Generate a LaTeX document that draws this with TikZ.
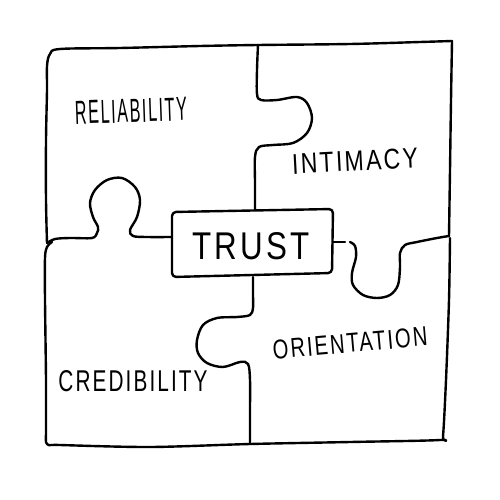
\documentclass[tikz,border=0pt]{standalone}
\usepackage{fontspec}
\setmainfont{Liberation Sans}
\newfontfamily\hand[LetterSpace=10]{Liberation Sans}
\begin{document}
\begin{tikzpicture}[x=1pt,y=-1pt,
  ink/.style={line width=2.4pt, line cap=round, line join=round},
  lab/.style={inner sep=0pt, font=\hand}]
\useasboundingbox (0,0) rectangle (500,500);
\fill[white] (0,0) rectangle (500,500);
% outer frame
\draw[ink] plot[smooth,tension=0.55] coordinates {(47,243) (46,200) (46,140) (47,90) (47,66) (50,54) (60,49) (120,48) (200,46) (258,45) (350,44) (420,42) (452,41)};
\draw[ink] plot[smooth,tension=0.55] coordinates {(452,41) (451,100) (450,170) (449,236)};
\draw[ink] plot[smooth,tension=0.5] coordinates {(450,238) (449,300) (446,380) (443,436) (440,440) (350,442) (250,444) (150,447) (60,445) (47,444) (46,430) (46,380) (45,300) (45,258) (47,247) (52,242)};
% dividers
\draw[ink] plot[smooth,tension=0.55] coordinates {(258,45) (257,70) (257,94) (261,100) (277,100) (297,97) (307,103) (312,118) (307,133) (293,143) (273,145) (259,147) (255,157) (255,183) (255,210)};
\draw[ink] plot[smooth,tension=0.55] coordinates {(47,243) (55,239) (70,238) (92,238) (97,233) (98,227) (93,217) (90,203) (95,190) (107,180) (122,178) (135,187) (140,200) (137,217) (130,230) (133,236) (147,237) (172,237)};
\draw[ink] plot[smooth,tension=0.55] coordinates {(253,277) (253,295) (253,308) (250,315) (237,317) (217,318) (203,325) (197,340) (198,353) (207,363) (223,367) (240,362) (248,364) (250,380) (250,410) (250,444)};
\draw[ink] (333,242) -- (345,242);
\draw[ink] plot[smooth,tension=0.55] coordinates {(350,242) (355,246) (356,257) (352,273) (353,285) (363,295) (377,298) (390,295) (398,285) (400,267) (400,253) (405,245) (417,242) (437,238) (449,236)};
% TRUST box
\draw[ink, rounded corners=4pt] (172,277) -- (172,212) -- (333,209) -- (332,273) -- cycle;
\node[lab] (trust) at (251,246) {\resizebox{117pt}{27pt}{TRUST}};
% labels
\node[lab, rotate=2] (rel) at (131,111) {\resizebox{112pt}{23pt}{RELIABILITY}};
\node[lab, rotate=3] (inti) at (355,161) {\resizebox{126pt}{20pt}{INTIMACY}};
\node[lab] (cred) at (133,381) {\resizebox{149pt}{21pt}{CREDIBILITY}};
\node[lab, rotate=5] (orie) at (350,343) {\resizebox{155pt}{19pt}{ORIENTATION}};
\end{tikzpicture}
\end{document}
